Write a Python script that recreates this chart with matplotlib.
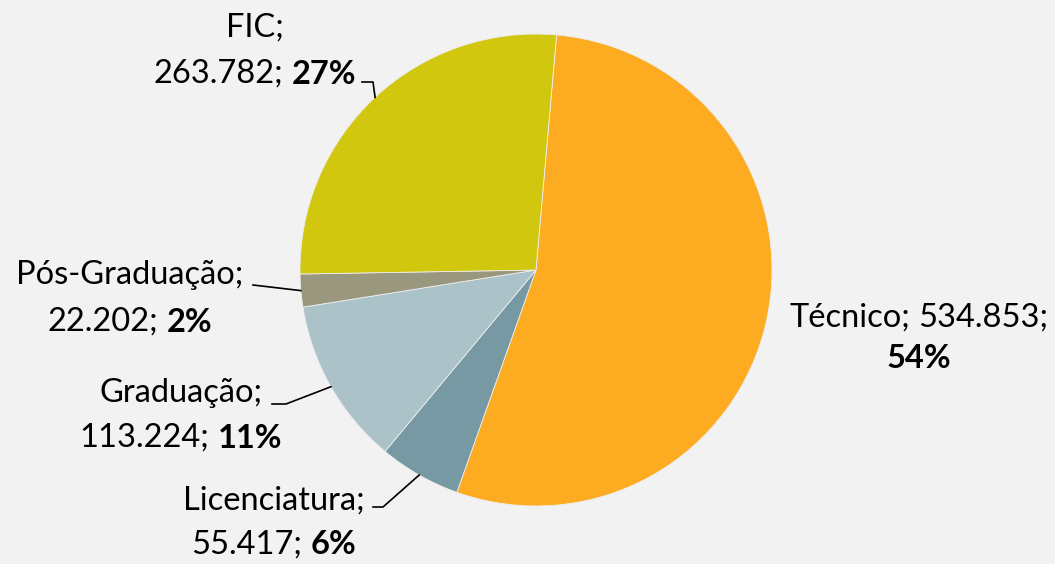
import numpy as np
import matplotlib
matplotlib.use("Agg")
import matplotlib.pyplot as plt

# Dados (matrículas por tipo de curso)
categorias = ["Técnico", "Licenciatura", "Graduação", "Pós-Graduação", "FIC"]
valores = [534853, 55417, 113224, 22202, 263782]
rotulos_valor = ["534.853", "55.417", "113.224", "22.202", "263.782"]
cores = ["#fdab20", "#7799a3", "#abc2c8", "#9a977f", "#d0c70e"]

W, H = 1055, 564
fundo = "#f2f2f2"
fonte = "Lato"
tam = 23.5

fig = plt.figure(figsize=(W / 100, H / 100), dpi=100, facecolor=fundo)
ax = fig.add_axes([0, 0, 1, 1])
ax.set_facecolor(fundo)

cx, cy, raio = 536, H - 270, 236
inicio = 85

wedges, _ = ax.pie(valores, colors=cores, startangle=inicio, counterclock=False,
                   center=(cx, cy), radius=raio,
                   wedgeprops=dict(linewidth=0.6, edgecolor="#eeeeee"))
ax.set_xlim(0, W)
ax.set_ylim(0, H)
ax.set_aspect("equal")
ax.axis("off")

total = sum(valores)
pct = [round(v / total * 100) for v in valores]

fig.canvas.draw()
renderer = fig.canvas.get_renderer()


def largura(s, peso="normal"):
    t = ax.text(0, 0, s, fontsize=tam, family=fonte, fontweight=peso)
    w = t.get_window_extent(renderer).width
    t.remove()
    return w


esp = largura("a a") - largura("aa")


def linha(xc, y, partes):
    # partes: lista de (texto, peso); linha centrada em xc
    ws = [largura(s, p) for s, p in partes]
    tot = sum(ws) + esp * (len(partes) - 1)
    x = xc - tot / 2
    for (s, p), w in zip(partes, ws):
        ax.text(x, H - y, s, fontsize=tam, family=fonte, fontweight=p,
                ha="left", va="center", color="black")
        x += w + esp


# posições dos rótulos (pixels, a partir do topo): centro x, y da 1a e 2a linha
layout = {
    "Técnico": (919, 318, 358),
    "Licenciatura": (274, 501, 545),
    "Graduação": (181, 393, 438),
    "Pós-Graduação": (130, 275, 322),
    "FIC": (255, 28, 74),
}
# pontos de início das linhas guia (pixels a partir do topo)
guias = {
    "Licenciatura": [(373, 507), (383, 507)],
    "Graduação": [(272, 404), (286, 404)],
    "Pós-Graduação": [(253, 285)],
    "FIC": [(362, 82), (373, 82)],
}

for i, cat in enumerate(categorias):
    xc, y1, y2 = layout[cat]
    if cat == "Técnico":
        linha(xc, y1, [(f"{cat};", "normal"), (f"{rotulos_valor[i]};", "normal")])
        linha(xc, y2, [(f"{pct[i]}%", "bold")])
    else:
        linha(xc, y1, [(f"{cat};", "normal")])
        linha(xc, y2, [(f"{rotulos_valor[i]};", "normal"), (f"{pct[i]}%", "bold")])

    if cat in guias:
        w = wedges[i]
        ang = np.deg2rad((w.theta1 + w.theta2) / 2)
        ex, ey = cx + raio * np.cos(ang), cy + raio * np.sin(ang)
        pts = [(x, H - y) for x, y in guias[cat]] + [(ex, ey)]
        xs, ys = zip(*pts)
        ax.plot(xs, ys, color="black", linewidth=1.2)

fig.savefig("out.png", dpi=100, facecolor=fundo)
